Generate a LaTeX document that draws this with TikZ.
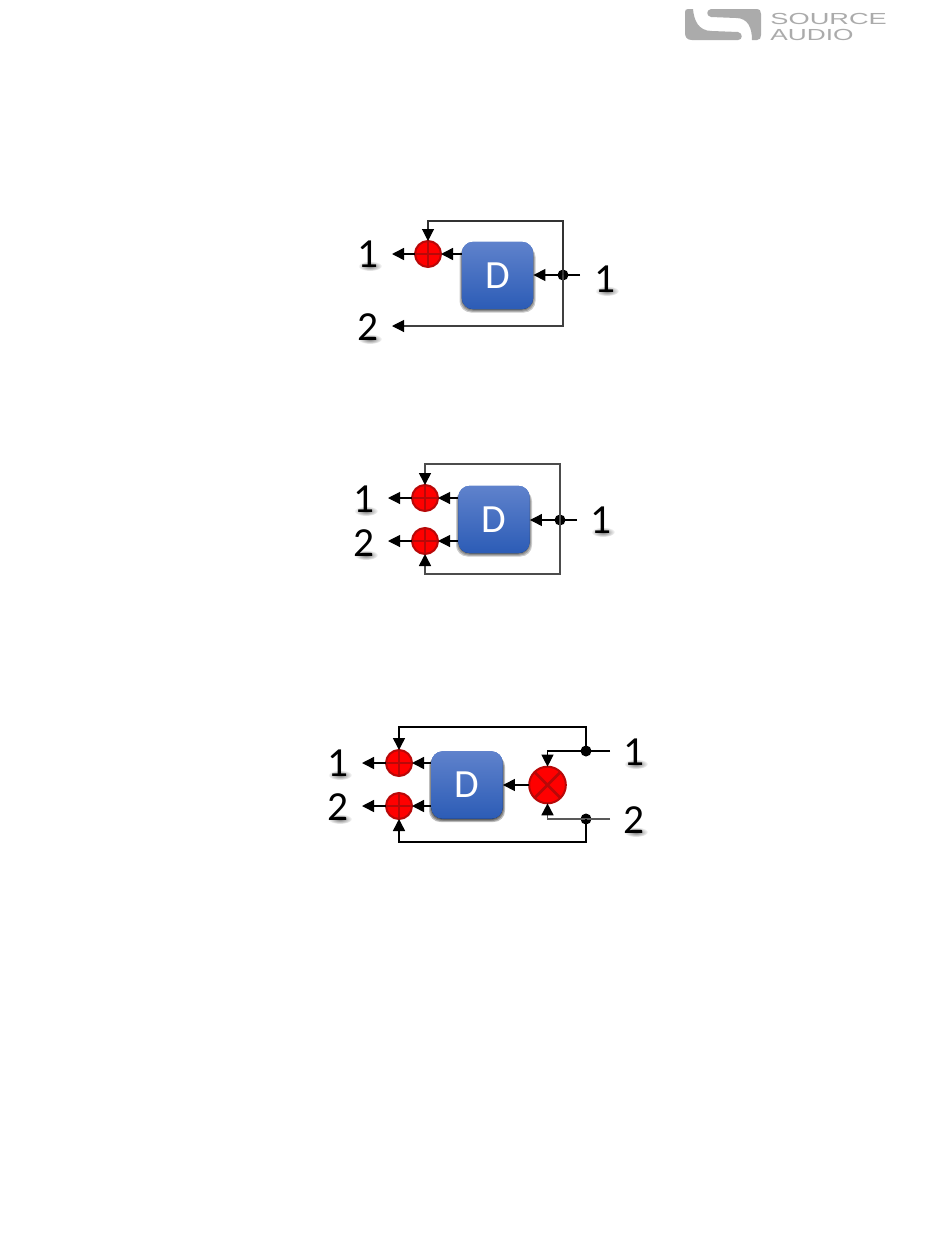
\documentclass[tikz,border=0pt]{standalone}
\usepackage{fontspec}
\setmainfont{Carlito}
\newfontfamily\logofont{Liberation Sans}
\usetikzlibrary{arrows.meta, fadings}

\definecolor{boxtop}{HTML}{5F82CC}
\definecolor{boxbot}{HTML}{2C5CB6}
\definecolor{sumred}{HTML}{FF0000}
\definecolor{sumdark}{HTML}{B80808}
\definecolor{logogray}{HTML}{ABABAB}

\tikzfading[name=softglow, inner color=transparent!0, outer color=transparent!100]

\tikzset{
  delaybox/.style={draw=none, rounded corners=8.5, minimum width=53.5, minimum height=50.5,
    top color=boxtop, bottom color=boxbot, text=white, font=\fontsize{30}{30}\selectfont, inner sep=0},
  sumnode/.style={circle, draw=sumdark, line width=1.5, fill=sumred, minimum size=19.5, inner sep=0, outer sep=0,
    path picture={\draw[sumdark, line width=1.6]
      (path picture bounding box.north) -- (path picture bounding box.south)
      (path picture bounding box.west) -- (path picture bounding box.east);}},
  mulnode/.style={circle, draw=sumdark, line width=1.5, fill=sumred, minimum size=27.5, inner sep=0, outer sep=0,
    path picture={\draw[sumdark, line width=2]
      (path picture bounding box.north west) -- (path picture bounding box.south east)
      (path picture bounding box.north east) -- (path picture bounding box.south west);}},
  dotnode/.style={circle, fill=black, minimum size=8.25, inner sep=0, outer sep=0},
  portlabel/.style={font=\fontsize{31}{31}\selectfont, inner sep=0},
  logotext/.style={text=logogray, font=\logofont\fontsize{12}{12}\selectfont, inner sep=0, anchor=west},
  wire/.style={line width=.8, line join=miter},
  sig/.style={wire, -{Triangle[length=9, width=9, color=black]}},
}
% drawn before the digit, sits under its foot
\newcommand{\digitshadow}[2]{\fill[black!55, path fading=softglow] (#1+2,#2+12) ellipse (12 and 5);}
% soft edge under a box, centre given
\newcommand{\boxshadow}[2]{\foreach \g in {3,2,1,0}
  \fill[black, opacity=.07, rounded corners=8.5] (#1-35-\g,#2-30) rectangle (#1+35+\g,#2+34+\g);}

\begin{document}
\begin{tikzpicture}[x=0.75pt, y=-0.75pt]
  \useasboundingbox (0,0) rectangle (950,1260);
  \fill[white] (0,0) rectangle (950,1260);

  % logo
  \fill[logogray] (688,9) -- (693,9) .. controls (694,20) and (698,31) .. (712,31) -- (738,32)
    .. controls (743,33) and (743,40) .. (738,40) -- (692,40) .. controls (687,40) and (685,37) .. (685,33)
    -- (685,12) .. controls (685,10) and (686,9) .. (688,9);
  \fill[logogray] (711,9) -- (756,9) .. controls (760,9) and (761,11) .. (761,14) -- (761,35)
    .. controls (761,38) and (760,40) .. (757,40) -- (752,40) .. controls (752,28) and (748,18) .. (736,18)
    -- (711,17) .. controls (706,16) and (706,10) .. (711,9);
  \node[logotext, xscale=1.7] (logoa) at (770,19) {SOURCE};
  \node[logotext, xscale=1.64] (logob) at (770,35) {AUDIO};

  % first
  \foreach \x/\y in {368/254, 368/327, 605/279} \digitshadow{\x}{\y}
  \boxshadow{497.5}{275.5}
  \node[delaybox] (d1) at (497.5,275.5) {D};
  \node[sumnode] (s1) at (428,254) {};
  \node[dotnode] (j1) at (563,275) {};
  \node[portlabel] (l1) at (368,254) {1};
  \node[portlabel] (l2) at (368,327) {2};
  \node[portlabel] (r1) at (605,279) {1};
  \coordinate (o1) at (392,254);
  \coordinate (o2) at (392,326);
  \coordinate (i1) at (580,275);
  \draw[sig, line width=1.1] (d1.west |- s1) -- (s1);
  \draw[sig, line width=1.1] (s1) -- (o1);
  \draw[sig, line width=1.1] (i1) -- (d1.east |- i1);
  \draw[sig, black!75] (j1.center) |- (o2);
  \draw[sig, black!80] (j1.center) -- (563,221) -| (s1.north);

  % second
  \foreach \x/\y in {364/499, 364/543, 601/520} \digitshadow{\x}{\y}
  \boxshadow{494}{519.5}
  \node[delaybox] (d2) at (494,519.5) {D};
  \node[sumnode] (s2a) at (425,498) {};
  \node[sumnode] (s2b) at (425,541) {};
  \node[dotnode] (j2) at (560,520) {};
  \node[portlabel] (l3) at (364,499) {1};
  \node[portlabel] (l4) at (364,543) {2};
  \node[portlabel] (r2) at (601,520) {1};
  \coordinate (o3) at (388,498);
  \coordinate (o4) at (388,541);
  \coordinate (i2) at (577,520);
  \draw[sig] (d2.west |- s2a) -- (s2a);
  \draw[sig] (d2.west |- s2b) -- (s2b);
  \draw[sig] (s2a) -- (o3);
  \draw[sig] (s2b) -- (o4);
  \draw[sig] (i2) -- (d2.east |- i2);
  \draw[sig, black!70, line width=1.2] (j2.center) -- (560,464) -| (s2a.north);
  \draw[sig, black!70, line width=1.2] (j2.center) -- (560,574) -| (s2b.south);

  % third
  \foreach \x/\y in {338/763, 338/807, 634/752, 634/820} \digitshadow{\x}{\y}
  \boxshadow{467}{785}
  \node[delaybox] (d3) at (467,785) {D};
  \node[sumnode] (s3a) at (399,763) {};
  \node[sumnode] (s3b) at (399,806) {};
  \node[mulnode] (m3) at (547.5,785) {};
  \node[dotnode] (j3a) at (586,751) {};
  \node[dotnode] (j3b) at (586,819) {};
  \node[portlabel] (l5) at (338,763) {1};
  \node[portlabel] (l6) at (338,807) {2};
  \node[portlabel] (r3) at (634,752) {1};
  \node[portlabel] (r4) at (634,820) {2};
  \coordinate (o5) at (362,763);
  \coordinate (o6) at (362,806);
  \coordinate (i3) at (610,751);
  \coordinate (i4) at (610,819);
  \draw[sig, line width=1.1] (d3.west |- s3a) -- (s3a);
  \draw[sig, line width=1.1] (d3.west |- s3b) -- (s3b);
  \draw[sig, line width=1.1] (s3a) -- (o5);
  \draw[sig, line width=1.1] (s3b) -- (o6);
  \draw[sig, line width=1.1] (m3) -- (d3.east |- m3);
  \draw[sig] (i3) -| (m3.north);
  \draw[sig, black!65, line width=1.3] (i4) -| (m3.south);
  \draw[sig, line width=1.1] (j3a.center) -- (586,727) -| (s3a.north);
  \draw[sig, line width=1.1] (j3b.center) -- (586,842) -| (s3b.south);
\end{tikzpicture}
\end{document}
